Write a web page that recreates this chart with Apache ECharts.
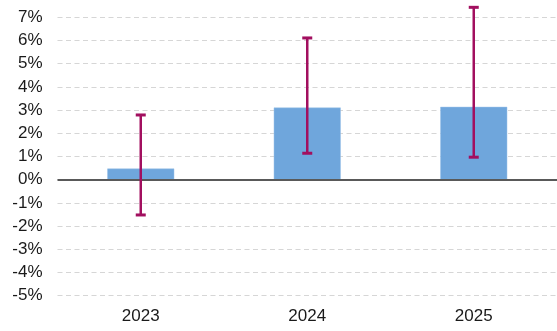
<!DOCTYPE html>
<html>
<head>
<meta charset="utf-8">
<script src="https://cdn.jsdelivr.net/npm/echarts@6/dist/echarts.min.js"></script>
<style>
html,body{margin:0;padding:0;background:#fff;}
#c{width:557px;height:331px;}
</style>
</head>
<body>
<div id="c"></div>
<script>
var categories = ['2023', '2024', '2025'];
var barValues = [0.48, 3.11, 3.14];
var errLow = [-1.52, 1.14, 0.97];
var errHigh = [2.79, 6.11, 7.43];
var yTicks = {min: -5, max: 7, interval: 1};

var errData = categories.map(function (c, i) { return [i, errLow[i], errHigh[i]]; });

var chart = echarts.init(document.getElementById('c'));
chart.setOption({
  animation: false,
  grid: {left: 57.5, width: 503, top: 17.3, bottom: 35.3},
  xAxis: {
    type: 'category',
    data: categories,
    axisLine: {show: false},
    axisTick: {show: false},
    axisLabel: {color: '#1a1a1a', fontSize: 17, fontFamily: 'Liberation Sans, Arial', margin: 12}
  },
  yAxis: {
    type: 'value',
    min: yTicks.min, max: yTicks.max, interval: yTicks.interval,
    axisLine: {show: false},
    axisTick: {show: false},
    axisLabel: {formatter: '{value}%', color: '#1a1a1a', fontSize: 17, fontFamily: 'Liberation Sans, Arial', margin: 15},
    splitLine: {lineStyle: {color: '#d6d6d6', width: 1.2, type: [5, 3.5]}}
  },
  series: [
    {
      type: 'bar',
      data: barValues,
      barWidth: 67,
      itemStyle: {color: '#6fa6dc', borderColor: '#9cc3e8', borderWidth: 0.5},
      markLine: {
        silent: true,
        symbol: 'none',
        label: {show: false},
        lineStyle: {color: '#595959', type: 'solid', width: 2},
        data: [{yAxis: 0}]
      },
      z: 2
    },
    {
      type: 'custom',
      data: errData,
      z: 5,
      renderItem: function (params, api) {
        var x = api.value(0);
        var lo = api.coord([x, api.value(1)]);
        var hi = api.coord([x, api.value(2)]);
        var hw = 5;
        var col = '#a20f5f';
        return {
          type: 'group',
          children: [
            {type: 'line', shape: {x1: lo[0], y1: lo[1], x2: hi[0], y2: hi[1]}, style: {stroke: col, lineWidth: 2.5}},
            {type: 'line', shape: {x1: lo[0] - hw, y1: lo[1], x2: lo[0] + hw, y2: lo[1]}, style: {stroke: col, lineWidth: 3}},
            {type: 'line', shape: {x1: hi[0] - hw, y1: hi[1], x2: hi[0] + hw, y2: hi[1]}, style: {stroke: col, lineWidth: 3}}
          ]
        };
      }
    }
  ]
});
</script>
</body>
</html>
